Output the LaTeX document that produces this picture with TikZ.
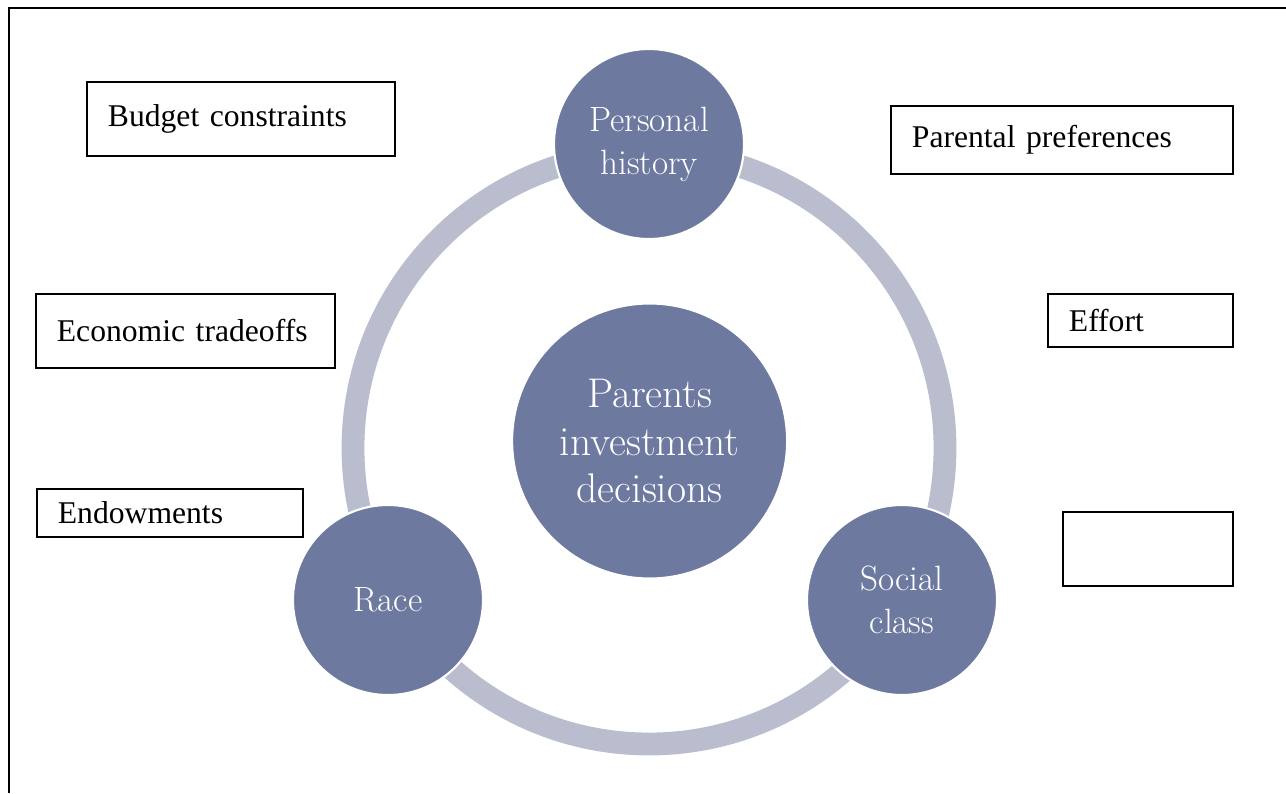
\documentclass[tikz,border=0pt]{standalone}
\usepackage{fontspec}
\usepackage{tikz}
\usetikzlibrary{positioning}
\newfontfamily\boxfont{Liberation Serif}
\definecolor{wheelblue}{RGB}{110,121,160}
\definecolor{ringgray}{RGB}{185,189,206}

\begin{document}
\begin{tikzpicture}[
  factor/.style={draw, line width=1.3pt, anchor=north west, align=left,
    inner xsep=0.525cm, inner ysep=0pt,
    font=\boxfont\fontsize{22.5}{27}\selectfont},
  outer/.style={circle, fill=wheelblue, draw=white, line width=1.5pt,
    minimum size=4.75cm, align=center, text=white,
    font=\fontsize{25}{30.5}\selectfont},
  hub/.style={outer, minimum size=6.875cm,
    font=\fontsize{29.5}{34}\selectfont}
]
\useasboundingbox (0,0) rectangle (32.15,-19.825);

% page frame
\draw[line width=2pt] (0.225,-19.825) |- (32.15,-0.2);

% ring behind the circles
\coordinate (mid) at (16.225,-11.2);
\draw[ringgray, line width=0.57cm] (mid) circle (7.4cm);

\node[hub] at (16.24,-11.025) (parents) {Parents\\investment\\decisions};
\node[outer] at (16.225,-3.6) (history) {Personal\\history};
\node[outer] at (9.7,-15) (race) {Race};
\node[outer] at (22.55,-15) (social) {Social\\class};

% factor boxes
\node[factor, text width=6.65cm, minimum height=1.85cm] at (2.15,-2.025) (budget) {Budget constraints};
\node[factor, text width=7.5cm, minimum height=1.7cm] at (22.25,-2.625) (prefs) {Parental preferences};
\node[factor, text width=6.425cm, minimum height=1.85cm] at (0.875,-7.325) (tradeoffs) {Economic tradeoffs};
\node[factor, text width=5.6cm, minimum height=1.2cm] at (0.9,-12.2) (endow) {Endowments};
\node[factor, text width=3.575cm, minimum height=1.325cm] at (26.175,-7.325) (effort) {Effort};
\node[factor, text width=3.2cm, minimum height=1.85cm] at (26.55,-12.775) (blank) {};

\end{tikzpicture}
\end{document}
